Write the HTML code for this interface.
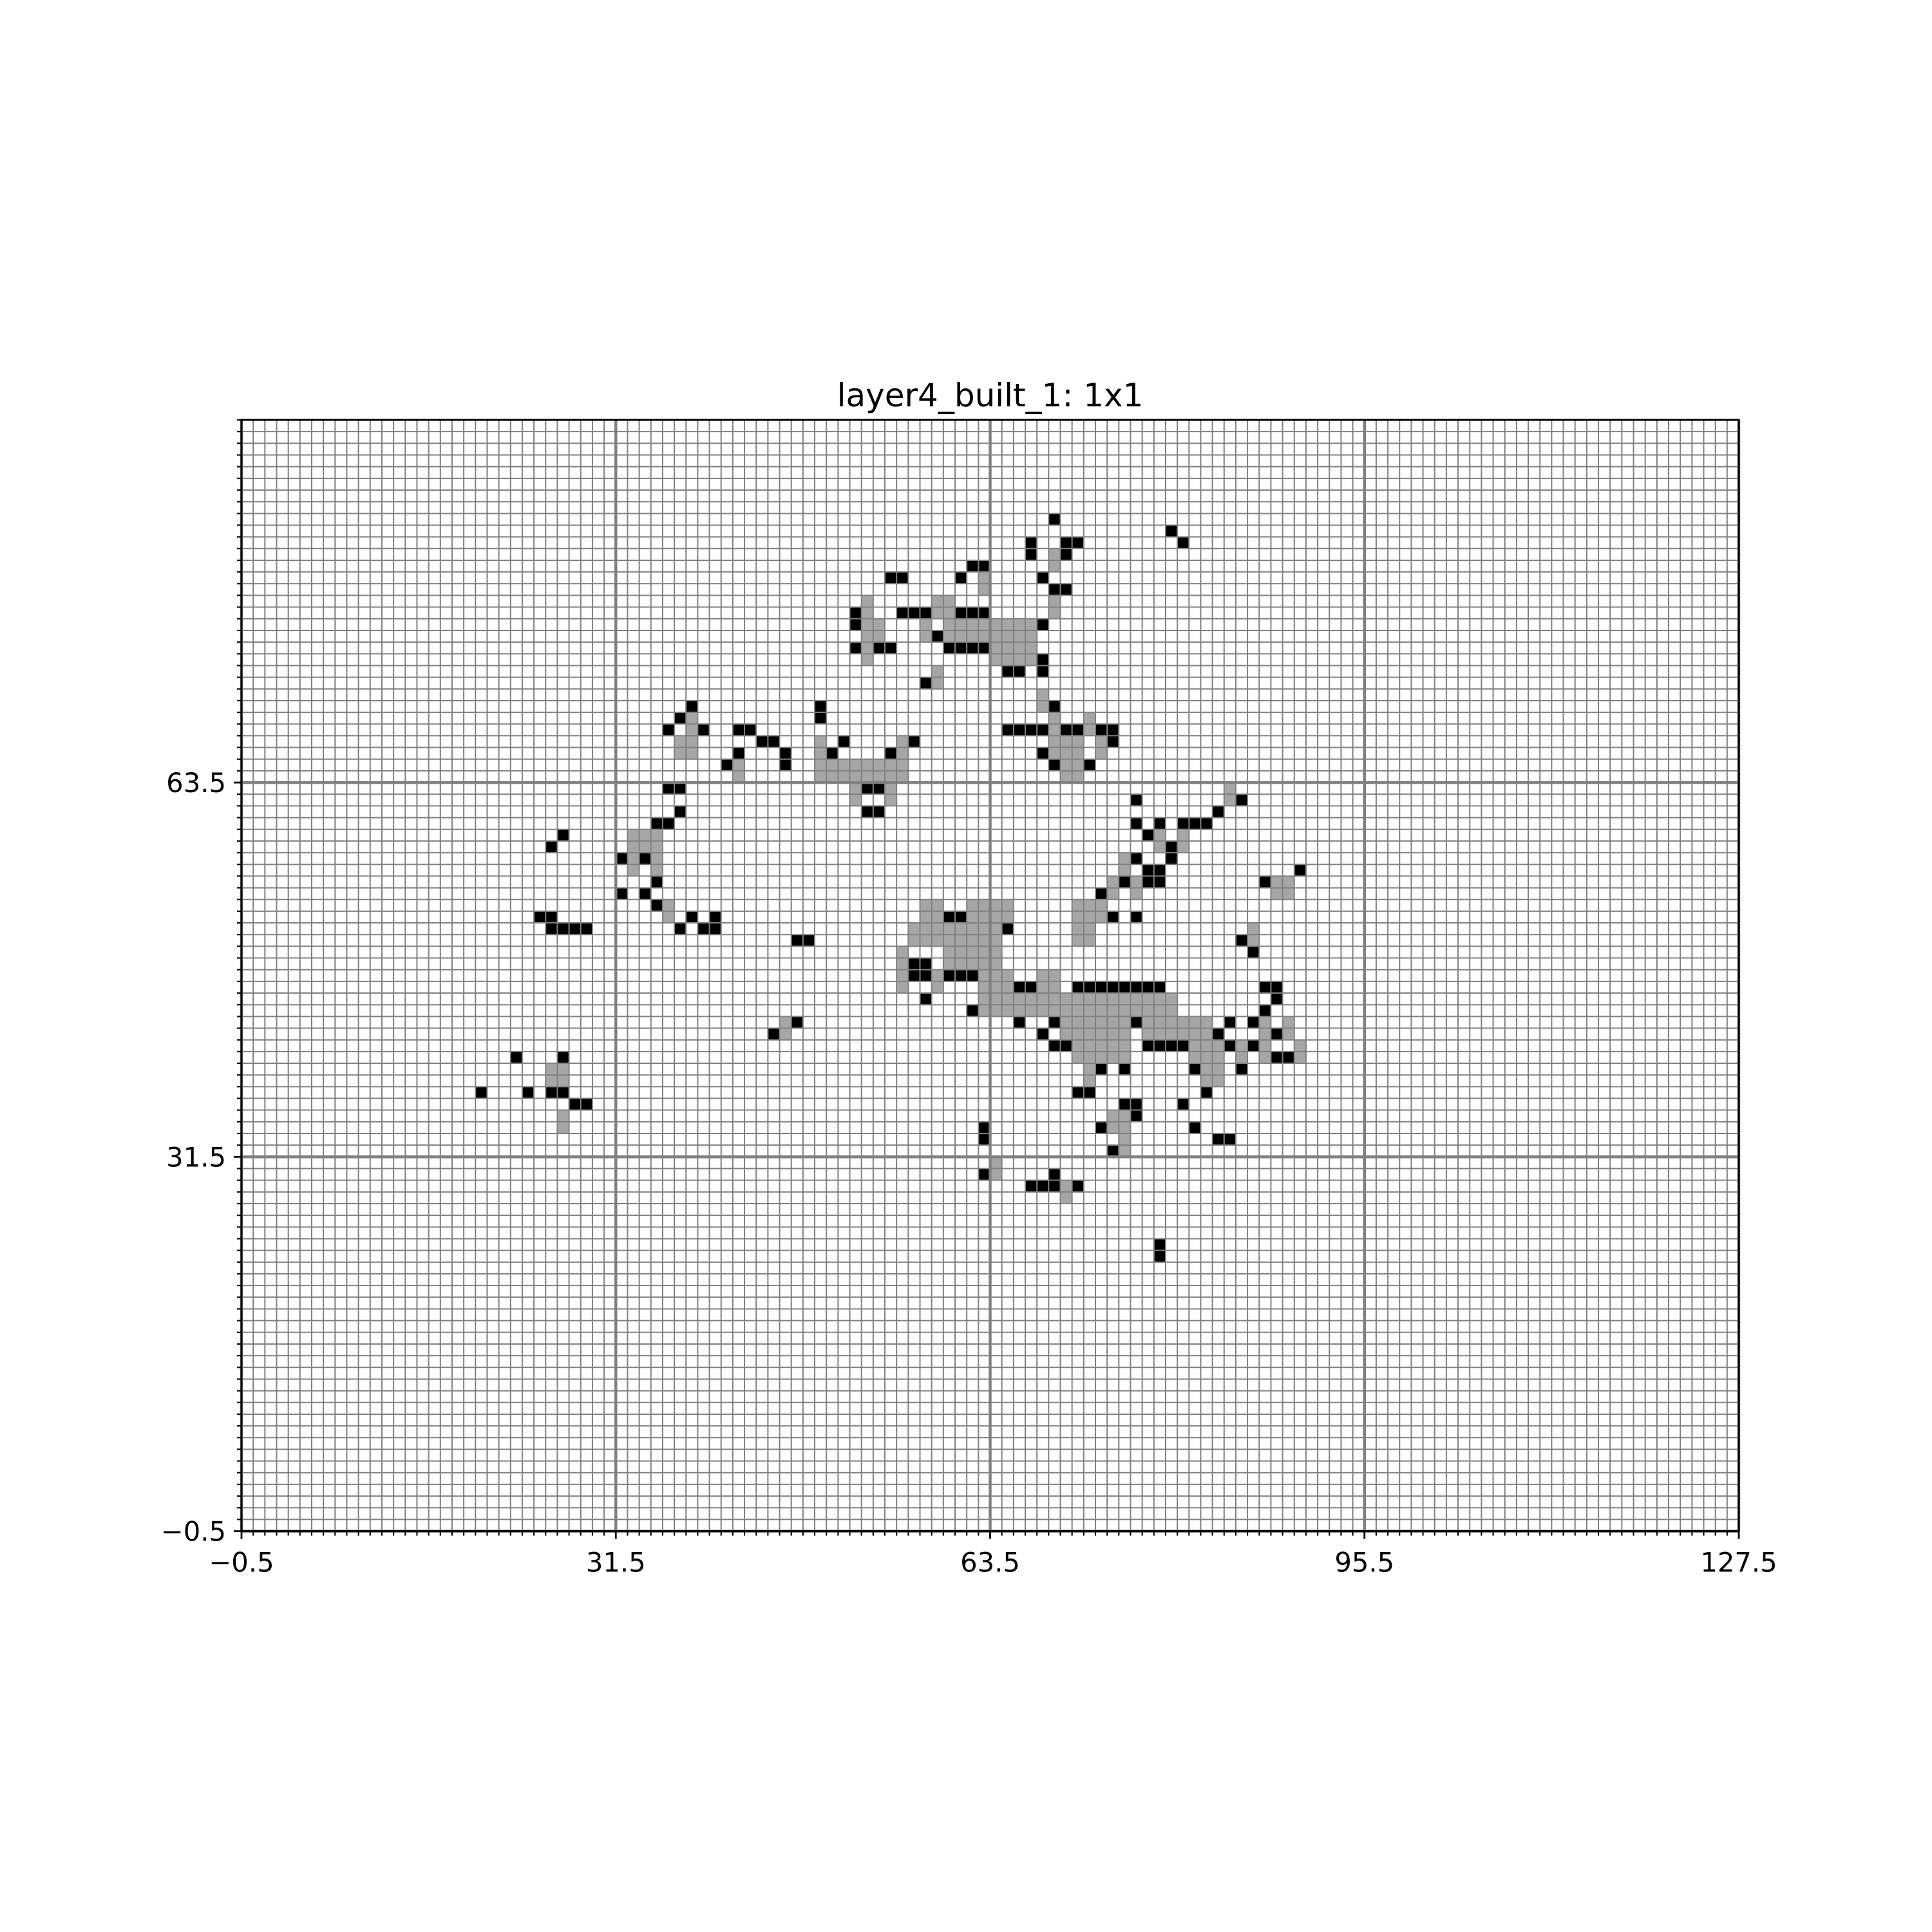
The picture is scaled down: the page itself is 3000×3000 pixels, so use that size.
<!DOCTYPE html>
<html><head><meta charset="utf-8"><title>layer4_built_1: 1x1</title>
<style>html,body{margin:0;padding:0;background:#fff}svg{display:block}text{font-family:"DejaVu Sans","Liberation Sans",sans-serif}</style>
</head><body>
<svg id="chart" xmlns="http://www.w3.org/2000/svg" width="3000" height="3000" viewBox="0 0 3000 3000">
<rect x="0" y="0" width="3000" height="3000" fill="#fff"/>
<text x="1537.5" y="631" font-size="50" text-anchor="middle" fill="#000">layer4_built_1: 1x1</text>
<g id="cells"></g>
<g id="grid"></g>
<g id="axes"></g>
</svg>
<script>
const xTickLabels = ["\u22120.5", "31.5", "63.5", "95.5", "127.5"];
const xTickValues = [-0.5, 31.5, 63.5, 95.5, 127.5];
const yTickLabels = ["\u22120.5", "31.5", "63.5"];
const yTickValues = [-0.5, 31.5, 63.5];
const rowY = [86,85,84,83,82,81,80,79,78,77,76,75,74,73,72,71,70,69,68,67,66,65,64,63,62,61,60,59,58,57,56,55,54,53,52,51,50,49,48,47,46,45,44,43,42,41,40,39,38,37,36,35,34,33,32,31,30,29,28,27,26,25,24,23];
const blackX = [
[69],[79],[67,70,71,80],[67,70],[62,63],[55,56,61,68],[69,70],[],
[52,56,57,58,61,62,63],[52,68],[59],[52,54,55,60,61,62,63],[68],[65,66,68],[58],[],
[38,49,69],[37,49],[36,39,42,43,65,66,67,68,70,71,73,74],[44,45,51,57,74],[42,46,50,55,68],[41,46,69,72],[],
[36,37,53,54],[76,85],[37,53,54,83],[35,36,76,78,80,81,82],[27,77],[26,79],[32,34,76,79],[77,78,90],[35,75,77,78,87],[32,34,73],[35],
[25,26,38,40,60,61,74,76],[26,27,28,29,37,39,40,65],[47,48,85],[86],[57,58],[57,58,60,61,62],[66,67,71,72,73,74,75,76,77,78,87,88],[58,88],[62,87],
[47,66,69,76,84,86],[45,68,83,88],[69,70,77,78,79,80,84,86],[23,27,88,89],[73,75,81,85],[],
[20,24,26,27,71,72,82],[28,29,75,76,80],[76],[63,73,81],[63,83,84],[74],[],[63,69],[67,68,69,71],[],[],[],[],[78],[78]
];
const grayX = [
[],[],[],[69],[69],[63],[63],[53,59,60,69],[53,59,60,69],
[53,54,58,60,61,62,63,64,65,66,67],[53,54,58,60,61,62,63,64,65,66,67],[53,64,65,66,67],[53,64,65,66,67],[59],[59],[68],[68],
[38,69,72],[38,69,72],[37,38,49,56,69,70,71,73],[37,38,49,56,69,70,71,73],
[42,49,50,51,52,53,54,55,56,70,71],[42,49,50,51,52,53,54,55,56,70,71],
[52,55,84],[52,55,84],[],[],[33,34,35,78,80],[33,34,35,78,80],[33,35,75],[33,35,75],[74,76,88,89],[74,76,88,89],
[36,58,59,62,63,64,65,71,72,73],[36,58,59,62,63,64,65,71,72,73],
[57,58,59,60,61,62,63,64,71,72,86],[57,58,59,60,61,62,63,64,71,72,86],
[56,60,61,62,63,64],[56,60,61,62,63,64],[56,59,63,64,65,68,69],[56,59,63,64,65,68,69],
[63,64,65,66,67,68,69,70,71,72,73,74,75,76,77,78,79],[63,64,65,66,67,68,69,70,71,72,73,74,75,76,77,78,79],
[46,70,71,72,73,74,75,77,78,79,80,81,82,87,89],[46,70,71,72,73,74,75,77,78,79,80,81,82,87,89],
[71,72,73,74,75,81,82,83,85,87,90],[71,72,73,74,75,81,82,83,85,87,90],
[26,27,72,82,83],[26,27,72,82,83],[],[],[27,74,75],[27,74,75],[75],[75],[64],[64],[70],[70],[],[],[],[],[],[]
];

const NS = "http://www.w3.org/2000/svg";
const L = 375, R = 2700, T = 652, NX = 128, NY = 95;
const S = (R - L) / NX;
const B = T + NY * S;
function sx(v) { return L + (v + 0.5) * S; }
function sy(v) { return B - (v + 0.5) * S; }
function mk(tag, attrs, parent) {
  const e = document.createElementNS(NS, tag);
  for (const k in attrs) e.setAttribute(k, attrs[k]);
  parent.appendChild(e);
  return e;
}
const cells = document.getElementById('cells');
function drawCells(xs, color, name) {
  for (let i = 0; i < rowY.length; i++) {
    const yv = rowY[i];
    for (const xv of (xs[i] || [])) {
      const r = mk('rect', {x: sx(xv - 0.5), y: sy(yv + 0.5), width: S, height: S, fill: color}, cells);
      
      
    }
  }
}
drawCells(grayX, '#a6a6a6', 'gray-cell');
drawCells(blackX, '#000000', 'black-cell');

const grid = document.getElementById('grid');
for (let k = 0; k <= NX; k++) {
  const x = L + k * S;
  const major = k % 32 === 0;
  const ln = mk('line', {x1: x, y1: T, x2: x, y2: B, stroke: '#808080', 'stroke-width': major ? 4.5 : 2}, grid);
  
  
}
for (let k = 0; k <= NY; k++) {
  const y = B - k * S;
  const major = k % 32 === 0;
  const ln = mk('line', {x1: L, y1: y, x2: R, y2: y, stroke: '#808080', 'stroke-width': major ? 4.5 : 2}, grid);
  
  
}

const axes = document.getElementById('axes');
for (let k = 0; k <= NX; k++) {
  const x = L + k * S;
  const t = mk('line', {x1: x, y1: B, x2: x, y2: B + 7, stroke: '#000', 'stroke-width': 2.1}, axes);
  
  
}
for (let k = 0; k <= NY; k++) {
  const y = B - k * S;
  const t = mk('line', {x1: L - 7, y1: y, x2: L, y2: y, stroke: '#000', 'stroke-width': 2.1}, axes);
  
  
}
xTickValues.forEach((v, i) => {
  const x = sx(v);
  const t = mk('line', {x1: x, y1: B, x2: x, y2: B + 12, stroke: '#000', 'stroke-width': 2.8}, axes);
  
  
  const tx = mk('text', {x: x, y: B + 24 + 39, 'font-size': 41.7, 'text-anchor': 'middle', fill: '#000'}, axes);
  tx.textContent = xTickLabels[i];
  
  
});
yTickValues.forEach((v, i) => {
  const y = sy(v);
  const t = mk('line', {x1: L - 12, y1: y, x2: L, y2: y, stroke: '#000', 'stroke-width': 2.8}, axes);
  
  
  const tx = mk('text', {x: L - 24, y: y + 15, 'font-size': 41.7, 'text-anchor': 'end', fill: '#000'}, axes);
  tx.textContent = yTickLabels[i];
  
  
});
const frame = mk('rect', {x: L, y: T, width: R - L, height: B - T, fill: 'none', stroke: '#000', 'stroke-width': 3}, axes);


</script>
</body></html>
